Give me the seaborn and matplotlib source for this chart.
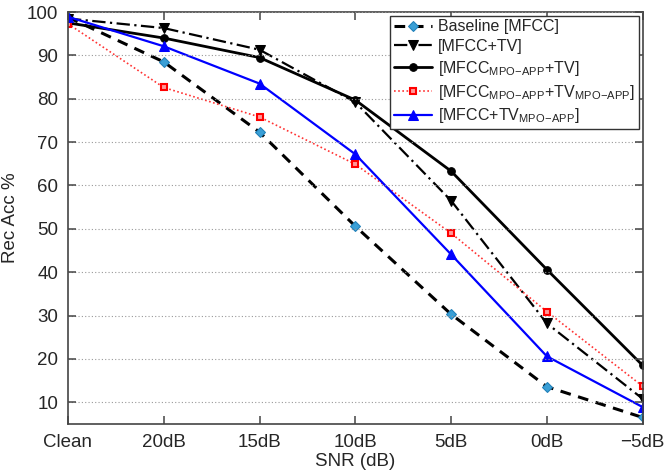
import numpy as np
import pandas as pd
import matplotlib
matplotlib.use("Agg")
import matplotlib.pyplot as plt
import seaborn as sns

# SNR conditions and recognition accuracy (%) per feature set
snr_labels = ["Clean", "20dB", "15dB", "10dB", "5dB", "0dB", "\u22125dB"]
baseline_mfcc = [98.8, 88.5, 72.3, 50.6, 30.3, 13.6, 6.5]
mfcc_tv = [98.5, 96.3, 91.3, 79.2, 56.5, 28.2, 10.8]
mfcc_mpo_tv = [97.5, 94.0, 89.5, 79.7, 63.3, 40.6, 18.5]
mfcc_mpo_tv_mpo = [97.3, 82.6, 75.8, 64.9, 49.0, 30.9, 13.7]
mfcc_tv_mpo = [98.9, 92.1, 83.5, 67.2, 44.1, 20.6, 8.9]

series_names = [
    "Baseline [MFCC]",
    "[MFCC+TV]",
    r"[MFCC$_{\mathrm{MPO\!-\!APP}}$+TV]",
    r"[MFCC$_{\mathrm{MPO\!-\!APP}}$+TV$_{\mathrm{MPO\!-\!APP}}$]",
    r"[MFCC+TV$_{\mathrm{MPO\!-\!APP}}$]",
]
series_values = [baseline_mfcc, mfcc_tv, mfcc_mpo_tv, mfcc_mpo_tv_mpo, mfcc_tv_mpo]

sns.set_style("ticks")
plt.rcParams["font.family"] = ["Liberation Sans", "DejaVu Sans"]
plt.rcParams["mathtext.fontset"] = "custom"
plt.rcParams["mathtext.rm"] = "Liberation Sans"
plt.rcParams["mathtext.it"] = "Liberation Sans:italic"
plt.rcParams.update({
    "xtick.direction": "in", "ytick.direction": "in",
    "xtick.top": True, "ytick.right": True,
    "xtick.bottom": True, "ytick.left": True,
    "xtick.major.size": 6, "ytick.major.size": 6,
    "xtick.major.width": 1.1, "ytick.major.width": 1.1,
    "axes.axisbelow": False,
})

x_pos = np.arange(len(snr_labels))
frames = []
for name, vals in zip(series_names, series_values):
    frames.append(pd.DataFrame({"snr": x_pos, "acc": vals, "system": name}))
df = pd.concat(frames, ignore_index=True)

styles = {
    series_names[0]: dict(color="black", linestyle=(0, (3.5, 2.5)), linewidth=2.2,
                          marker="D", markersize=5, markerfacecolor="#3a9fd6",
                          markeredgecolor="#1f7fb8"),
    series_names[1]: dict(color="black", linestyle=(0, (6, 2, 1, 2)), linewidth=1.6,
                          marker="v", markersize=6.5, markerfacecolor="black",
                          markeredgecolor="black"),
    series_names[2]: dict(color="black", linestyle="-", linewidth=2.0,
                          marker="o", markersize=5.5, markerfacecolor="black",
                          markeredgecolor="black"),
    series_names[3]: dict(color="#ff3333", linestyle=(0, (1, 1.5)), linewidth=1.2,
                          marker="s", markersize=5, markerfacecolor="#ff9999",
                          markeredgecolor="red", markeredgewidth=1.5),
    series_names[4]: dict(color="blue", linestyle="-", linewidth=1.6,
                          marker="^", markersize=6.5, markerfacecolor="blue",
                          markeredgecolor="blue"),
}

fig = plt.figure(figsize=(6.66, 4.73), dpi=100)
ax = fig.add_axes([0.102, 0.1036, 0.863, 0.871])

for name in series_names:
    sub = df[df["system"] == name]
    sns.lineplot(data=sub, x="snr", y="acc", ax=ax, label=name, **styles[name])

ax.set_xlim(0, len(snr_labels) - 1)
ax.set_ylim(5, 100)
ax.set_xticks(x_pos)
ax.set_xticklabels(snr_labels)
ax.set_yticks(np.arange(10, 101, 10))
ax.set_xlabel("SNR (dB)", fontsize=13.5, labelpad=2)
ax.set_ylabel("Rec Acc %", fontsize=13.5, labelpad=6)
ax.yaxis.grid(True, linestyle=(0, (1, 2)), color="#999999", linewidth=0.8)
for sp in ax.spines.values():
    sp.set_color("#444444")
    sp.set_linewidth(1.2)

leg = ax.legend(loc="upper right", fontsize=11.5, frameon=True, fancybox=False,
                edgecolor="#333333", framealpha=1, handlelength=2.4,
                handletextpad=0.4, borderpad=0.2, labelspacing=0.3,
                borderaxespad=0.25)
leg.get_frame().set_linewidth(1.0)

# inward ticks on all four sides
ax.set_axisbelow(False)
ax.tick_params(axis="both", which="major", direction="in", top=True, right=True,
               bottom=True, left=True, labelsize=13.5, length=6, width=1.1,
               color="#444444", pad=7)
for tick in ax.xaxis.get_major_ticks() + ax.yaxis.get_major_ticks():
    for tl in (tick.tick1line, tick.tick2line):
        tl.set_visible(True)
        tl.set_markersize(6)
        tl.set_markeredgewidth(1.1)
        tl.set_markeredgecolor("#444444")

fig.savefig("out.png", dpi=100)
